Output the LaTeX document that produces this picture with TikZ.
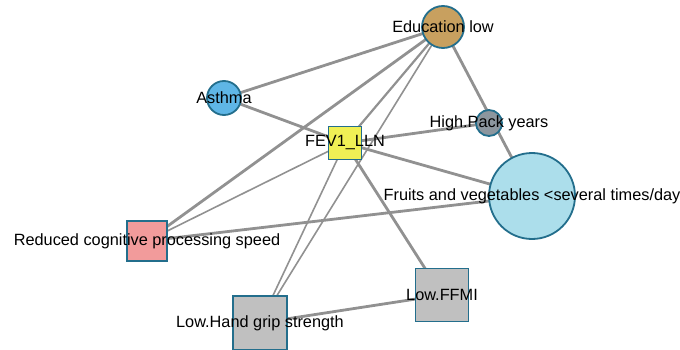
\documentclass[tikz,border=0pt]{standalone}
\usepackage{fontspec}
\setmainfont{Liberation Sans}
\usetikzlibrary{backgrounds}
\definecolor{bord}{RGB}{35,110,140}
\definecolor{edu}{RGB}{200,160,95}
\definecolor{asth}{RGB}{95,182,230}
\definecolor{pack}{RGB}{140,150,158}
\definecolor{fruit}{RGB}{172,222,235}
\definecolor{fev}{RGB}{240,240,85}
\definecolor{cog}{RGB}{242,155,155}
\definecolor{grayb}{RGB}{192,192,192}
\definecolor{edgec}{RGB}{145,145,145}
\begin{document}
\begin{tikzpicture}[x=1pt,y=-1pt,
  every label/.style={font=\fontsize{16.3}{19}\selectfont, text=black, inner sep=0pt},
  vtx/.style={draw=bord, line width=1.8pt, inner sep=0pt},
  cvtx/.style={vtx, circle, minimum size=#1},
  svtx/.style={vtx, rectangle, minimum size=#1},
  thickedge/.style={draw=edgec, line width=2.8pt},
  thinedge/.style={draw=edgec, line width=1.6pt},
  midedge/.style={draw=edgec, line width=2.2pt}]
\useasboundingbox (0,0) rectangle (680,350);
\node[cvtx=42pt, fill=edu, label=center:{Education low}] (E) at (443,27) {};
\node[cvtx=34pt, fill=asth, label=center:{Asthma}] (A) at (224,98) {};
\node[svtx=33pt, fill=fev, label=center:{FEV1\_LLN}] (F) at (345,143) {};
\node[cvtx=26pt, fill=pack, label=center:{High.Pack years}] (H) at (489,123) {};
\node[cvtx=86pt, fill=fruit, label=center:{Fruits and vegetables <several times/day}] (Fr) at (532,196) {};
\node[svtx=40pt, fill=cog, label=center:{Reduced cognitive processing speed}] (R) at (147,241) {};
\node[svtx=54pt, fill=grayb, label=center:{Low.Hand grip strength}] (HG) at (260,323) {};
\node[svtx=53pt, fill=grayb, label=center:{Low.FFMI}] (LF) at (442,295) {};
\begin{scope}[on background layer]
  \draw[thickedge] (E.center) -- (A.center);
  \draw[thickedge] (E.center) -- (R.center);
  \draw[thickedge] (E.center) -- (Fr.center);
  \draw[midedge] (E.center) -- (F.center);
  \draw[thinedge] (E.center) -- (HG.center);
  \draw[thickedge] (A.center) -- (F.center);
  \draw[thickedge] (F.center) -- (H.center);
  \draw[thickedge] (F.center) -- (Fr.center);
  \draw[thickedge] (F.center) -- (LF.center);
  \draw[thinedge] (F.center) -- (HG.center);
  \draw[thinedge] (F.center) -- (R.center);
  \draw[thickedge] (R.center) -- (Fr.center);
  \draw[thickedge] (HG.center) -- (LF.center);
\end{scope}
\end{tikzpicture}
\end{document}
